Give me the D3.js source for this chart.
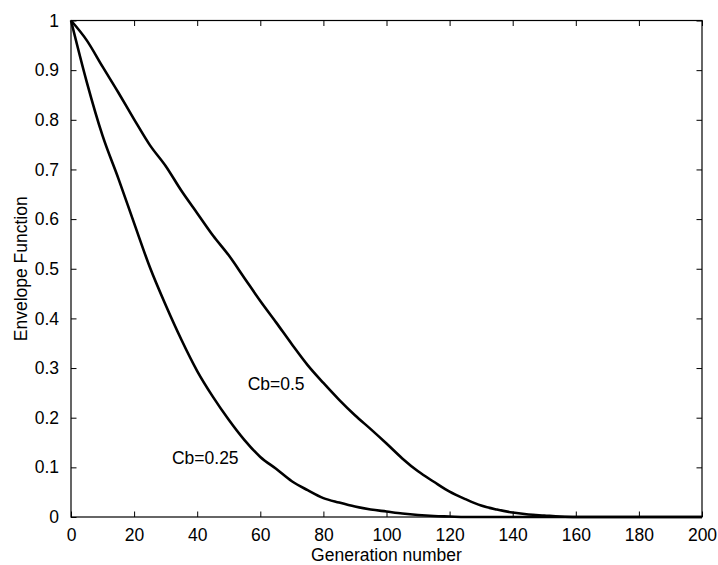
<!DOCTYPE html>
<html>
<head>
<meta charset="utf-8">
<script src="https://cdn.jsdelivr.net/npm/d3@7"></script>
<style>
  html, body { margin: 0; padding: 0; background: #fff; }
  svg { display: block; }
  text { font-family: "Liberation Sans", Arial, sans-serif; fill: #000; }
</style>
</head>
<body>
<svg id="chart" width="718" height="565"></svg>
<script>
// Generation numbers (sampled every 5 generations)
const generations = d3.range(0, 201, 5);

// Envelope function for Cb = 0.25
const envCb025 = [
  1.000, 0.876, 0.768, 0.682, 0.592, 0.503, 0.427, 0.357, 0.294, 0.242,
  0.196, 0.155, 0.121, 0.097, 0.072, 0.054, 0.038, 0.029, 0.021, 0.015,
  0.011, 0.007, 0.004, 0.002, 0.001, 0.000, 0.000, 0.000, 0.000, 0.000,
  0.000, 0.000, 0.000, 0.000, 0.000, 0.000, 0.000, 0.000, 0.000, 0.000,
  0.000
];

// Envelope function for Cb = 0.5
const envCb05 = [
  1.000, 0.960, 0.907, 0.855, 0.801, 0.749, 0.707, 0.657, 0.612, 0.567,
  0.527, 0.481, 0.435, 0.392, 0.348, 0.306, 0.270, 0.236, 0.205, 0.177,
  0.148, 0.118, 0.092, 0.071, 0.051, 0.036, 0.023, 0.015, 0.009, 0.005,
  0.003, 0.001, 0.000, 0.000, 0.000, 0.000, 0.000, 0.000, 0.000, 0.000,
  0.000
];

const xTickValues = [0, 20, 40, 60, 80, 100, 120, 140, 160, 180, 200];
const xTickLabels = ["0", "20", "40", "60", "80", "100", "120", "140", "160", "180", "200"];
const yTickValues = [0, 0.1, 0.2, 0.3, 0.4, 0.5, 0.6, 0.7, 0.8, 0.9, 1];
const yTickLabels = ["0", "0.1", "0.2", "0.3", "0.4", "0.5", "0.6", "0.7", "0.8", "0.9", "1"];

const seriesLabels = [
  { text: "Cb=0.5",  gen: 56,  val: 0.255 },
  { text: "Cb=0.25", gen: 32,  val: 0.107 }
];

const xLabel = "Generation number";
const yLabel = "Envelope Function";

// Plot frame in pixels
const plotLeft = 71, plotRight = 702, plotTop = 20.5, plotBottom = 517;
const fontSize = 17.5;

const svg = d3.select("#chart");

const x = d3.scaleLinear().domain([0, 200]).range([plotLeft, plotRight]);
const y = d3.scaleLinear().domain([0, 1]).range([plotBottom, plotTop]);

// Axes: ticks point inward, mirrored on top and right
const tickLen = 5.5;

const xAxisBottom = d3.axisBottom(x).tickValues(xTickValues)
  .tickFormat((d, i) => xTickLabels[i]).tickSizeInner(-tickLen).tickSizeOuter(0).tickPadding(12);
const xAxisTop = d3.axisTop(x).tickValues(xTickValues)
  .tickFormat("").tickSizeInner(-tickLen).tickSizeOuter(0);
const yAxisLeft = d3.axisLeft(y).tickValues(yTickValues)
  .tickFormat((d, i) => yTickLabels[i]).tickSizeInner(-tickLen).tickSizeOuter(0).tickPadding(12);
const yAxisRight = d3.axisRight(y).tickValues(yTickValues)
  .tickFormat("").tickSizeInner(-tickLen).tickSizeOuter(0);

function styleAxis(g) {
  g.selectAll(".domain").remove();
  g.selectAll(".tick line").attr("stroke", "#000").attr("stroke-width", 1);
  g.selectAll(".tick text")
    .style("font-family", "'Liberation Sans', Arial, sans-serif")
    .style("font-size", fontSize + "px")
    .attr("fill", "#000");
}

svg.append("g").attr("transform", `translate(0,${plotBottom})`).call(xAxisBottom).call(styleAxis);
svg.append("g").attr("transform", `translate(0,${plotTop})`).call(xAxisTop).call(styleAxis);
svg.append("g").attr("transform", `translate(${plotLeft},0)`).call(yAxisLeft).call(styleAxis);
svg.append("g").attr("transform", `translate(${plotRight},0)`).call(yAxisRight).call(styleAxis);

// Frame
svg.append("rect")
  .attr("x", plotLeft).attr("y", plotTop)
  .attr("width", plotRight - plotLeft).attr("height", plotBottom - plotTop)
  .attr("fill", "none").attr("stroke", "#000").attr("stroke-width", 1.2);

// Curves
const line = d3.line()
  .x((d, i) => x(generations[i]))
  .y(d => y(d))
  .curve(d3.curveMonotoneX);

[envCb025, envCb05].forEach(series => {
  svg.append("path")
    .datum(series)
    .attr("d", line)
    .attr("fill", "none")
    .attr("stroke", "#000")
    .attr("stroke-width", 2.6)
    .attr("stroke-linejoin", "round");
});

// Series labels
svg.selectAll(".series-label")
  .data(seriesLabels)
  .join("text")
  .attr("class", "series-label")
  .attr("x", d => x(d.gen))
  .attr("y", d => y(d.val))
  .style("font-size", fontSize + "px")
  .text(d => d.text);

// Axis titles
svg.append("text")
  .attr("x", (plotLeft + plotRight) / 2)
  .attr("y", 561)
  .attr("text-anchor", "middle")
  .style("font-size", fontSize + "px")
  .text(xLabel);

svg.append("text")
  .attr("transform", `translate(27,${(plotTop + plotBottom) / 2}) rotate(-90)`)
  .attr("text-anchor", "middle")
  .style("font-size", fontSize + "px")
  .text(yLabel);
</script>
</body>
</html>
